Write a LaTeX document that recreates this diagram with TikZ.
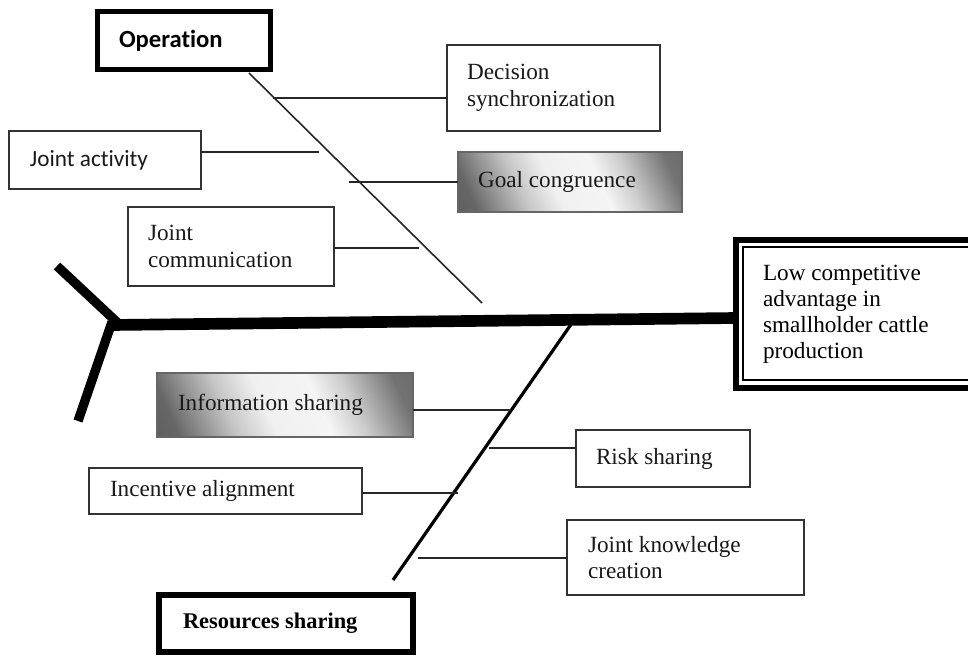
\documentclass[tikz,border=0pt]{standalone}
\usepackage{fontspec}
\setmainfont{Liberation Serif}
\newfontfamily\calfont{Carlito}[Ligatures=NoCommon]
\pgfdeclarehorizontalshading{gshade}{100bp}{color(0bp)=(black!70); color(22bp)=(black!60); color(36bp)=(black!22); color(45bp)=(black!6); color(58bp)=(black!4); color(66bp)=(black!20); color(78bp)=(black!55); color(100bp)=(black!65)}
\begin{document}
\begin{tikzpicture}[x=0.75pt,y=-0.75pt,
  box/.style={draw=black!80, line width=1pt, fill=white, outer sep=0pt, inner ysep=2pt, align=flush left, text=black!90,
    font=\fontsize{17.4}{20}\selectfont},
  sbox/.style={box, font=\calfont\fontsize{17.4}{20}\selectfont},
  gbox/.style={box, draw=black!60, shading=gshade, shading angle=25},
  hbox/.style={box, draw=black, text=black},
  rib/.style={draw=black!85, line width=1pt},
  tailbone/.style={draw=black, line width=7pt, line cap=butt}
]
\clip (0,0) rectangle (968,656);
\fill[white] (0,0) rectangle (968,656);

% coordinates of spines and rib ends
\coordinate (u1) at (249,73);
\coordinate (u2) at (482,303);
\coordinate (l1) at (572,323);
\coordinate (l2) at (393,580);
\coordinate (t0) at (112,325);
\coordinate (m1) at (736,318);
\coordinate (tA) at (57,266);
\coordinate (tJ) at (120,325);
\coordinate (tK) at (112,322);
\coordinate (tB) at (78,421);
\coordinate (r1) at (273,98);
\coordinate (r2) at (319,152);
\coordinate (r3) at (349,182);
\coordinate (r4) at (419,248);
\coordinate (r5) at (511,410);
\coordinate (r6) at (489,448);
\coordinate (r7) at (458,493);
\coordinate (r8) at (418,558);

% spines
\draw[black, line width=8.75pt] (t0) -- (m1);
\draw[tailbone] (tA) -- (tJ);
\draw[tailbone] (tK) -- (tB);
\draw[black!85, line width=1.2pt] (u1) -- (u2);
\draw[black, line width=2.4pt] (l1) -- (l2);

% boxes
\node[hbox, font=\calfont\bfseries\fontsize{18.5}{21}\selectfont, line width=3.75pt,
  text width=97.5pt, inner xsep=16.1pt, minimum height=43.5pt] (op) at (184,40.5) {Operation};
\node[box, text width=129.75pt, inner xsep=15pt, minimum height=64.5pt] (dec) at (553.5,88) {Decision\\synchronization};
\node[sbox, text width=112.5pt, inner xsep=15.75pt, minimum height=43.5pt] (jact) at (105,160) {Joint activity};
\node[gbox, text width=138pt, inner xsep=15pt, minimum height=45pt] (goal) at (570,182) {Goal congruence};
\node[box, text width=124.5pt, inner xsep=15pt, minimum height=59.25pt] (jcom) at (231,246.5) {Joint\\communication};
\node[hbox, line width=5pt, text width=157.5pt, inner xsep=20.25pt, minimum height=111pt,
  font=\fontsize{17.4}{19.5}\selectfont] (eff) at (868,314)
  {Low competitive\\advantage in\\smallholder cattle\\production};
\draw[black, line width=1.3pt] ([shift={(7,7)}]eff.north west) rectangle ([shift={(-7,-8)}]eff.south east);
\node[gbox, text width=160.5pt, inner xsep=15.75pt, minimum height=48pt] (info) at (285,405) {Information sharing};
\node[box, text width=100.5pt, inner xsep=15pt, minimum height=42.75pt] (risk) at (663,458.5) {Risk sharing};
\node[box, text width=173.25pt, inner xsep=15.75pt, minimum height=34.5pt] (inc) at (225.5,491) {Incentive alignment};
\node[box, text width=146.25pt, inner xsep=15.75pt, minimum height=56.25pt] (jkn) at (685.5,557.5) {Joint knowledge\\creation};
\node[hbox, line width=4pt, font=\bfseries\fontsize{16.8}{19}\selectfont,
  text width=154.5pt, inner xsep=18pt, minimum height=42.75pt] (res) at (286,623.5) {Resources sharing};

% ribs
\draw[rib] (r1) -- (dec.west |- r1);
\draw[rib] (jact.east |- r2) -- (r2);
\draw[rib] (r3) -- (goal.west |- r3);
\draw[rib] (jcom.east |- r4) -- (r4);
\draw[rib] (info.east |- r5) -- (r5);
\draw[rib] (r6) -- (risk.west |- r6);
\draw[rib] (inc.east |- r7) -- (r7);
\draw[rib] (r8) -- (jkn.west |- r8);
\end{tikzpicture}
\end{document}
